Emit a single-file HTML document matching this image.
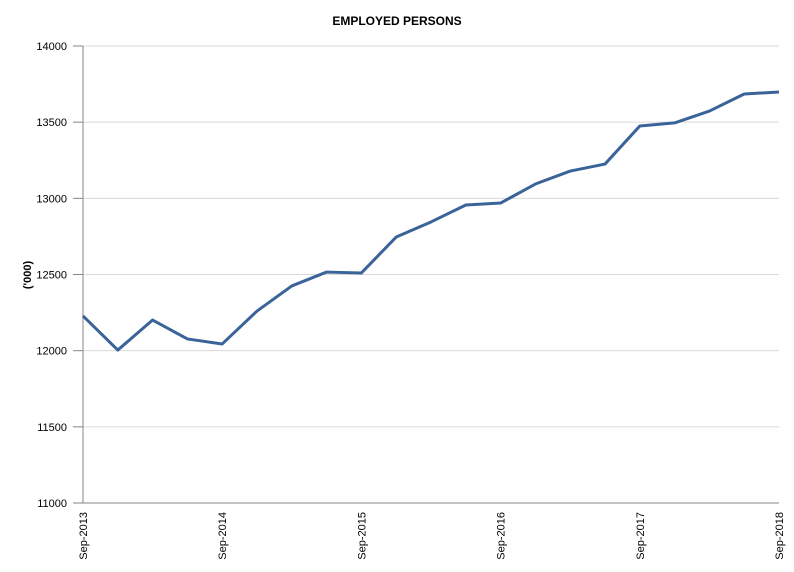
<!DOCTYPE html>
<html><head><meta charset="utf-8"><style>
html,body{margin:0;padding:0;background:#fff;}
svg{display:block;font-family:"Liberation Sans",sans-serif;}
</style></head><body>
<svg id="chart" width="794" height="572">
<text x="397" y="25" text-anchor="middle" font-size="12" font-weight="bold" fill="#000">EMPLOYED PERSONS</text>
<text transform="translate(31,275) rotate(-90)" text-anchor="middle" font-size="11" font-weight="bold">('000)</text>
<g id="grid"></g><g id="axes"></g><g id="series"></g>
</svg>
<script>
const categories=["Sep-2013","Dec-2013","Mar-2014","Jun-2014","Sep-2014","Dec-2014","Mar-2015","Jun-2015","Sep-2015","Dec-2015","Mar-2016","Jun-2016","Sep-2016","Dec-2016","Mar-2017","Jun-2017","Sep-2017","Dec-2017","Mar-2018","Jun-2018","Sep-2018"];
const employed=[12228,12004,12201,12077,12044,12260,12425,12516,12510,12746,12845,12956,12969,13094,13179,13225,13475,13495,13573,13685,13698];
const yTicks=[11000,11500,12000,12500,13000,13500,14000];
const xLabelIdx=[0,4,8,12,16,20];
const NS="http://www.w3.org/2000/svg";
const L=83,R=779,T=46,B=503,yMin=11000,yMax=14000;
const xs=i=>L+(R-L)*i/(categories.length-1);
const ys=v=>B-(v-yMin)/(yMax-yMin)*(B-T);
function mk(tag,attrs,parent){const e=document.createElementNS(NS,tag);for(const k in attrs)e.setAttribute(k,attrs[k]);parent.appendChild(e);return e;}
const grid=document.getElementById('grid'),axes=document.getElementById('axes'),series=document.getElementById('series');
yTicks.forEach(v=>{
  const y=ys(v);
  if(v!==yMin){const g=mk('line',{x1:L,x2:R,y1:y,y2:y,stroke:'#d9d9d9','stroke-width':1},grid);
  
  }
  const tk=mk('line',{x1:L-10,x2:L,y1:y,y2:y,stroke:'#868686'},axes);
  
  
  const t=mk('text',{x:67,y:y+4,'text-anchor':'end','font-size':11,fill:'#000'},axes);
  t.textContent=v;
  
  
});
const ya=mk('line',{x1:L,x2:L,y1:T,y2:B,stroke:'#868686'},axes);


const xa=mk('line',{x1:L,x2:R,y1:B,y2:B,stroke:'#868686'},axes);


xLabelIdx.forEach(i=>{
  const t=mk('text',{transform:`translate(${xs(i)+4},512) rotate(-90)`,'text-anchor':'end','font-size':11,fill:'#000'},axes);
  t.textContent=categories[i];
  
  
});
const p=mk('polyline',{points:employed.map((v,i)=>xs(i)+','+ys(v)).join(' '),fill:'none',stroke:'#3a6499','stroke-width':3,'stroke-linejoin':'round'},series);


</script>
</body></html>
